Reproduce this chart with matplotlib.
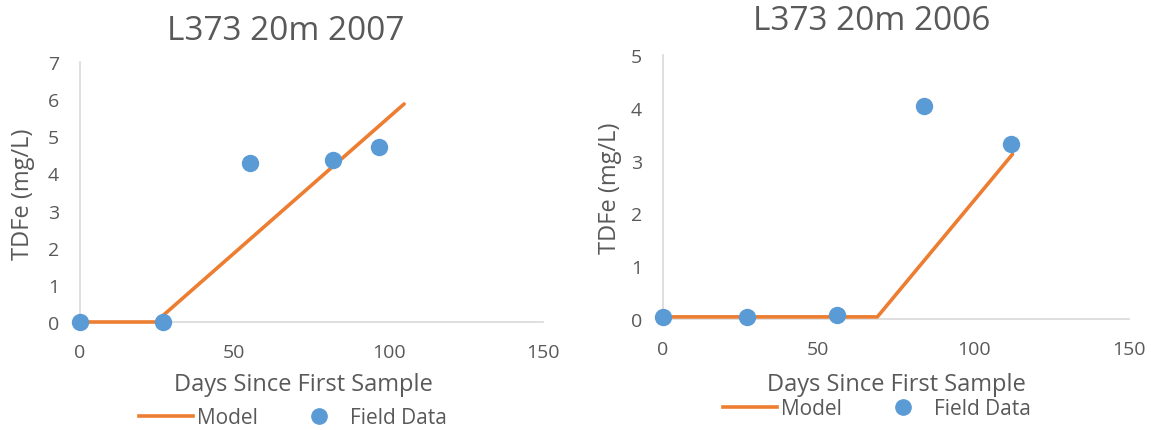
import matplotlib
matplotlib.use("Agg")
import matplotlib.pyplot as plt
from matplotlib.lines import Line2D

plt.rcParams['font.family'] = ['Open Sans', 'DejaVu Sans']

# 2007 profile
days_2007 = [0, 27, 55, 82, 97]
fe_2007 = [0.0, 0.0, 4.29, 4.37, 4.72]
model_days_2007 = [0, 24.5, 105]
model_fe_2007 = [0.0, 0.0, 5.87]

# 2006 profile
days_2006 = [0, 27, 56, 84, 112]
fe_2006 = [0.04, 0.04, 0.08, 4.03, 3.31]
model_days_2006 = [0, 69, 112.5]
model_fe_2006 = [0.04, 0.04, 3.12]

ORANGE = '#ED7D31'
BLUE = '#5B9BD5'
TEXT = '#595959'
AXIS = '#D9D9D9'

fig = plt.figure(figsize=(11.51, 4.31), dpi=100)
W, H = 1151, 431


def fx(px):
    return px / W


def fy(py):
    return 1 - py / H


def axes_px(x0, x1, y_top, y_bot):
    return fig.add_axes([fx(x0), fy(y_bot), (x1 - x0) / W, (y_bot - y_top) / H])


def panel(ax, days, fe, mdays, mfe, ymax, title, title_xy, xlabel_xy, ylabel_xy, legend_xy):
    ax.plot(mdays, mfe, color=ORANGE, lw=2.6, solid_capstyle='round', zorder=3,
            clip_on=False)
    ax.plot(days, fe, 'o', color=BLUE, ms=11.5, zorder=4, clip_on=False)
    ax.set_xlim(0, 150)
    ax.set_ylim(0, ymax)
    ax.set_xticks([0, 50, 100, 150])
    ax.set_yticks(range(0, ymax + 1))
    for s in ['top', 'right']:
        ax.spines[s].set_visible(False)
    for s in ['left', 'bottom']:
        ax.spines[s].set_color(AXIS)
        ax.spines[s].set_linewidth(1.2)
    ax.tick_params(length=0, labelsize=14, colors=TEXT)
    ax.tick_params(axis='y', pad=15)
    ax.tick_params(axis='x', pad=15)
    fig.text(fx(title_xy[0]), fy(title_xy[1]), title, fontsize=24, color=TEXT,
             ha='center', va='center')
    fig.text(fx(xlabel_xy[0]), fy(xlabel_xy[1]), 'Days Since First Sample',
             fontsize=17, color=TEXT, ha='center', va='center')
    fig.text(fx(ylabel_xy[0]), fy(ylabel_xy[1]), 'TDFe (mg/L)', fontsize=17,
             color=TEXT, ha='center', va='center', rotation=90)
    handles = [Line2D([], [], color=ORANGE, lw=2.6),
               Line2D([], [], color=BLUE, marker='o', ms=11, ls='none')]
    fig.legend(handles, ['Model', 'Field Data'], loc='center', ncol=2,
               bbox_to_anchor=(fx(legend_xy[0]), fy(legend_xy[1])), frameon=False,
               fontsize=15, labelcolor=TEXT, handlelength=2.6,
               handletextpad=0.2, columnspacing=1.6, borderpad=0)


ax1 = axes_px(80, 543, 63, 323)
panel(ax1, days_2007, fe_2007, model_days_2007, model_fe_2007, 7, 'L373 20m 2007',
      (286, 32), (303, 385), (23, 194), (293, 419))

ax2 = axes_px(663, 1129, 56, 320)
panel(ax2, days_2006, fe_2006, model_days_2006, model_fe_2006, 5, 'L373 20m 2006',
      (872, 22), (896, 385), (610, 188), (877, 410))

fig.savefig('out.png', dpi=100, facecolor='white')
